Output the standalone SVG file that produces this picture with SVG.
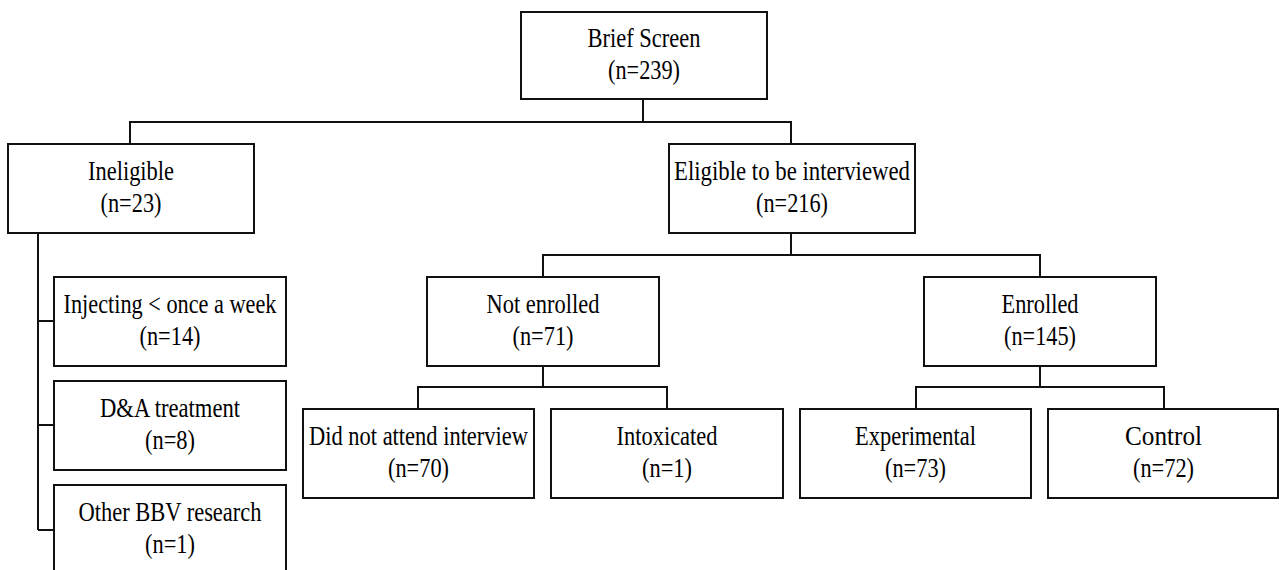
<svg xmlns="http://www.w3.org/2000/svg" width="1279" height="570" viewBox="0 0 1279 570">
<rect width="1279" height="570" fill="#fff"/>
<g id="connectors" fill="none" stroke="#111" stroke-width="2">
<path d="M643,99 V122 M130,144 V122 H791 V144"/>
<path d="M38,233 V530 M38,321 H54 M38,425 H54 M38,530 H54"/>
<path d="M791,233 V255 M543,277 V255 H1040 V277"/>
<path d="M543,366 V387 M418,409 V387 H667 V409"/>
<path d="M1040,366 V387 M916,409 V387 H1164 V409"/>
</g>
<g id="brief">
<rect x="521" y="12" width="246" height="87" fill="#fff" stroke="#111" stroke-width="2"/>
<text x="644" y="47" font-family="Liberation Serif" font-size="28" text-anchor="middle" textLength="113" lengthAdjust="spacingAndGlyphs">Brief Screen</text>
<text x="644" y="79" font-family="Liberation Serif" font-size="28" text-anchor="middle" textLength="72" lengthAdjust="spacingAndGlyphs">(n=239)</text>
</g>
<g id="ineligible">
<rect x="8" y="144" width="246" height="89" fill="#fff" stroke="#111" stroke-width="2"/>
<text x="131" y="180" font-family="Liberation Serif" font-size="28" text-anchor="middle" textLength="86" lengthAdjust="spacingAndGlyphs">Ineligible</text>
<text x="131" y="212" font-family="Liberation Serif" font-size="28" text-anchor="middle" textLength="61" lengthAdjust="spacingAndGlyphs">(n=23)</text>
</g>
<g id="eligible">
<rect x="669" y="144" width="246" height="89" fill="#fff" stroke="#111" stroke-width="2"/>
<text x="792" y="180" font-family="Liberation Serif" font-size="28" text-anchor="middle" textLength="236" lengthAdjust="spacingAndGlyphs">Eligible to be interviewed</text>
<text x="792" y="212" font-family="Liberation Serif" font-size="28" text-anchor="middle" textLength="72" lengthAdjust="spacingAndGlyphs">(n=216)</text>
</g>
<g id="injecting">
<rect x="54" y="277" width="232" height="89" fill="#fff" stroke="#111" stroke-width="2"/>
<text x="170" y="313" font-family="Liberation Serif" font-size="28" text-anchor="middle" textLength="213" lengthAdjust="spacingAndGlyphs">Injecting &lt; once a week</text>
<text x="170" y="345" font-family="Liberation Serif" font-size="28" text-anchor="middle" textLength="61" lengthAdjust="spacingAndGlyphs">(n=14)</text>
</g>
<g id="da">
<rect x="54" y="381" width="232" height="89" fill="#fff" stroke="#111" stroke-width="2"/>
<text x="170" y="417" font-family="Liberation Serif" font-size="28" text-anchor="middle" textLength="140" lengthAdjust="spacingAndGlyphs">D&amp;A treatment</text>
<text x="170" y="449" font-family="Liberation Serif" font-size="28" text-anchor="middle" textLength="50" lengthAdjust="spacingAndGlyphs">(n=8)</text>
</g>
<g id="bbv">
<rect x="54" y="485" width="232" height="95" fill="#fff" stroke="#111" stroke-width="2"/>
<text x="170" y="521" font-family="Liberation Serif" font-size="28" text-anchor="middle" textLength="183" lengthAdjust="spacingAndGlyphs">Other BBV research</text>
<text x="170" y="553" font-family="Liberation Serif" font-size="28" text-anchor="middle" textLength="50" lengthAdjust="spacingAndGlyphs">(n=1)</text>
</g>
<g id="notenrolled">
<rect x="427" y="277" width="232" height="89" fill="#fff" stroke="#111" stroke-width="2"/>
<text x="543" y="313" font-family="Liberation Serif" font-size="28" text-anchor="middle" textLength="113" lengthAdjust="spacingAndGlyphs">Not enrolled</text>
<text x="543" y="345" font-family="Liberation Serif" font-size="28" text-anchor="middle" textLength="61" lengthAdjust="spacingAndGlyphs">(n=71)</text>
</g>
<g id="enrolled">
<rect x="924" y="277" width="232" height="89" fill="#fff" stroke="#111" stroke-width="2"/>
<text x="1040" y="313" font-family="Liberation Serif" font-size="28" text-anchor="middle" textLength="77" lengthAdjust="spacingAndGlyphs">Enrolled</text>
<text x="1040" y="345" font-family="Liberation Serif" font-size="28" text-anchor="middle" textLength="72" lengthAdjust="spacingAndGlyphs">(n=145)</text>
</g>
<g id="didnot">
<rect x="303" y="409" width="231" height="89" fill="#fff" stroke="#111" stroke-width="2"/>
<text x="418.5" y="445" font-family="Liberation Serif" font-size="28" text-anchor="middle" textLength="219" lengthAdjust="spacingAndGlyphs">Did not attend interview</text>
<text x="418.5" y="477" font-family="Liberation Serif" font-size="28" text-anchor="middle" textLength="61" lengthAdjust="spacingAndGlyphs">(n=70)</text>
</g>
<g id="intox">
<rect x="551" y="409" width="232" height="89" fill="#fff" stroke="#111" stroke-width="2"/>
<text x="667" y="445" font-family="Liberation Serif" font-size="28" text-anchor="middle" textLength="101" lengthAdjust="spacingAndGlyphs">Intoxicated</text>
<text x="667" y="477" font-family="Liberation Serif" font-size="28" text-anchor="middle" textLength="50" lengthAdjust="spacingAndGlyphs">(n=1)</text>
</g>
<g id="experimental">
<rect x="800" y="409" width="231" height="89" fill="#fff" stroke="#111" stroke-width="2"/>
<text x="915.5" y="445" font-family="Liberation Serif" font-size="28" text-anchor="middle" textLength="121" lengthAdjust="spacingAndGlyphs">Experimental</text>
<text x="915.5" y="477" font-family="Liberation Serif" font-size="28" text-anchor="middle" textLength="61" lengthAdjust="spacingAndGlyphs">(n=73)</text>
</g>
<g id="control">
<rect x="1048" y="409" width="230" height="89" fill="#fff" stroke="#111" stroke-width="2"/>
<text x="1163.5" y="445" font-family="Liberation Serif" font-size="28" text-anchor="middle" textLength="77" lengthAdjust="spacingAndGlyphs">Control</text>
<text x="1163.5" y="477" font-family="Liberation Serif" font-size="28" text-anchor="middle" textLength="61" lengthAdjust="spacingAndGlyphs">(n=72)</text>
</g>
</svg>
